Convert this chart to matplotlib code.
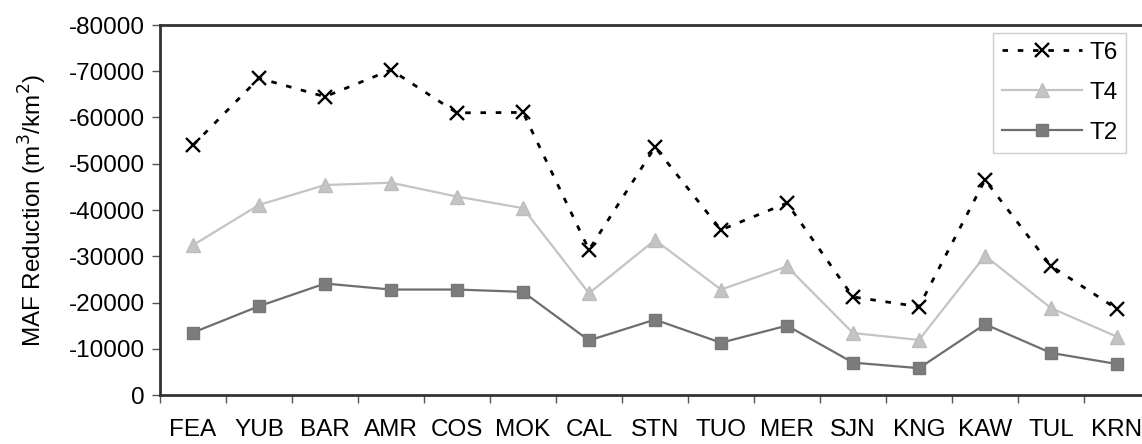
import numpy as np
import matplotlib
matplotlib.use("Agg")
from matplotlib import pyplot as plt

plt.rcParams['font.family'] = ['Liberation Sans', 'DejaVu Sans']

sites = ["FEA", "YUB", "BAR", "AMR", "COS", "MOK", "CAL", "STN",
         "TUO", "MER", "SJN", "KNG", "KAW", "TUL", "KRN"]
t6 = [-54000, -68500, -64500, -70300, -61000, -61100, -31400, -53600,
      -35700, -41500, -21200, -19100, -46500, -27900, -18600]
t4 = [-32400, -41100, -45400, -45900, -42900, -40400, -22000, -33500,
      -22800, -27800, -13400, -11900, -30100, -18800, -12600]
t2 = [-13500, -19200, -24100, -22800, -22800, -22300, -11800, -16300,
      -11300, -15000, -7000, -5800, -15300, -9100, -6700]

fig = plt.figure(figsize=(11.42, 4.44), dpi=100)
ax = fig.add_axes([160/1142, 49/444, 990/1142, 370/444])

x = np.arange(len(sites))
ax.plot(x, t6, color='black', linestyle=(0, (2.0, 3.5)), linewidth=2,
        marker='x', markersize=10, markeredgewidth=1.7, label='T6')
ax.plot(x, t4, color='#c4c4c4', linewidth=1.6,
        marker='^', markersize=10, markeredgecolor='#bdbdbd', label='T4')
ax.plot(x, t2, color='#6e6e6e', linewidth=1.6,
        marker='s', markersize=8, markerfacecolor='#7c7c7c',
        markeredgecolor='#777777', label='T2')

ax.set_xlim(-0.5, len(sites) - 0.5)
ax.set_ylim(0, -80000)
ax.set_yticks(np.arange(0, -80001, -10000))
ax.set_yticklabels([str(v) for v in range(0, -80001, -10000)])
ax.set_xticks(x)
ax.set_xticklabels(sites)
ax.set_xticks(np.arange(-0.5, len(sites)), minor=True)
ax.tick_params(axis='x', which='major', length=0, pad=17, labelsize=17.5)
ax.tick_params(axis='x', which='minor', length=6, width=1, color='#555555')
ax.tick_params(axis='y', length=6, width=1, color='#555555', labelsize=17.5, pad=5)

for s in ['left', 'top', 'bottom', 'right']:
    ax.spines[s].set_color('#333333')
    ax.spines[s].set_linewidth(2)

ax.set_ylabel('MAF Reduction (m$^3$/km$^2$)', fontsize=17.5, labelpad=14)

leg = ax.legend(loc='upper right', bbox_to_anchor=(1126/1142, 1 - 33/444),
                bbox_transform=fig.transFigure, borderaxespad=0,
                fontsize=17.5, fancybox=False,
                edgecolor='#cccccc', framealpha=1, handlelength=3.3,
                handletextpad=0.3, borderpad=0.35, labelspacing=0.75)
leg.get_frame().set_linewidth(1)

fig.savefig('out.png', dpi=100)
